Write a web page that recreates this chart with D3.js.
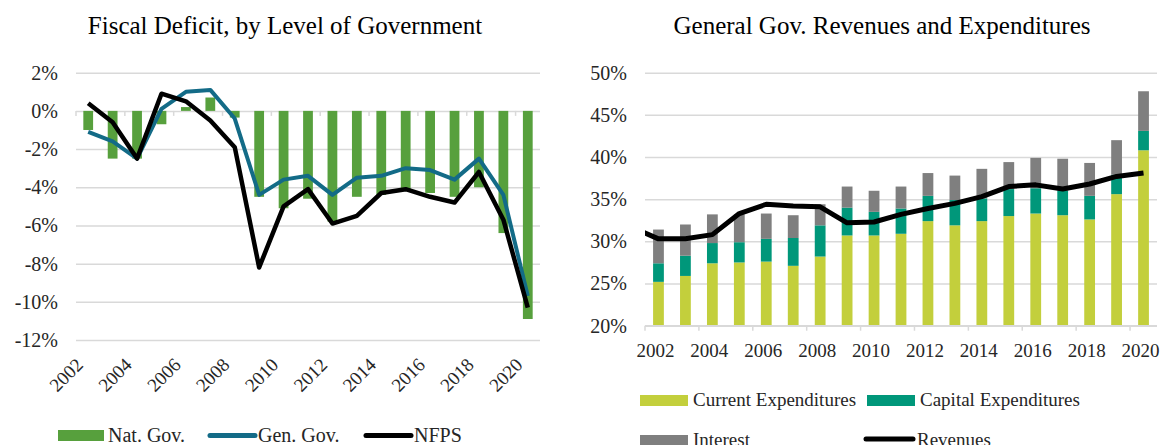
<!DOCTYPE html>
<html>
<head>
<meta charset="utf-8">
<script src="https://cdn.jsdelivr.net/npm/d3@7/dist/d3.min.js"></script>
<style>
  body { margin: 0; background: #fff; }
  svg text { font-family: "Liberation Serif", "DejaVu Serif", serif; fill: #262626; }
</style>
</head>
<body>
<svg id="chart" width="1165" height="445"></svg>
<script>
// categories
var years = [2002, 2003, 2004, 2005, 2006, 2007, 2008, 2009, 2010, 2011,
             2012, 2013, 2014, 2015, 2016, 2017, 2018, 2019, 2020];
var yearLabels = [2002, 2004, 2006, 2008, 2010, 2012, 2014, 2016, 2018, 2020];

// left chart: fiscal deficit, % of GDP
var natGov = [-1.0, -2.5, -2.5, -0.7, 0.2, 0.7, -0.35, -4.5, -5.1, -4.6,
              -5.8, -4.5, -4.4, -4.2, -4.3, -4.5, -4.0, -6.4, -10.9];
var genGov = [-1.1, -1.6, -2.5, 0.1, 1.0, 1.1, -0.4, -4.4, -3.6, -3.4,
              -4.4, -3.5, -3.4, -3.0, -3.1, -3.6, -2.5, -4.4, -9.7];
var nfps   = [0.4, -0.6, -2.5, 0.9, 0.5, -0.5, -1.9, -8.2, -5.0, -4.1,
              -5.9, -5.5, -4.3, -4.1, -4.5, -4.8, -3.2, -5.7, -10.3];
var leftTicks = [2, 0, -2, -4, -6, -8, -10, -12];

// right chart: general government, % of GDP
var currentExp = [25.2, 25.9, 27.4, 27.5, 27.6, 27.1, 28.2, 30.7, 30.7, 30.9,
                  32.4, 31.9, 32.4, 33.0, 33.3, 33.1, 32.6, 35.6, 40.8];
var capitalExp = [2.2, 2.4, 2.4, 2.4, 2.7, 3.3, 3.7, 3.3, 2.8, 3.0,
                  3.0, 3.0, 2.7, 3.2, 3.0, 2.9, 2.8, 2.3, 2.3];
var interest   = [4.0, 3.7, 3.4, 3.3, 3.0, 2.7, 2.5, 2.5, 2.5, 2.6,
                  2.7, 2.9, 3.5, 3.2, 3.6, 3.8, 3.9, 4.1, 4.7];
// revenues series starts one year earlier (only its tail shows at the left edge)
var revYears = [2001, 2002, 2003, 2004, 2005, 2006, 2007, 2008, 2009, 2010, 2011,
                2012, 2013, 2014, 2015, 2016, 2017, 2018, 2019, 2020];
var revenues = [31.7, 30.3, 30.3, 30.8, 33.3, 34.4, 34.2, 34.1, 32.2, 32.3, 33.2,
                33.9, 34.5, 35.3, 36.5, 36.7, 36.2, 36.8, 37.7, 38.1];
var rightTicks = [20, 25, 30, 35, 40, 45, 50];

var colors = {nat: "#57A03D", gen: "#136B87", nfps: "#000000",
              cur: "#C3CF3C", cap: "#00977A", int: "#7F7F7F", grid: "#D9D9D9"};

var svg = d3.select("#chart");

//---------------- left chart ----------------
var L = {left: 76, right: 540, top: 72.7, bottom: 340};
var xL = d3.scaleBand().domain(years).range([L.left, L.right]);
var yL = d3.scaleLinear().domain([-12, 2]).range([L.bottom, L.top]);
var cL = function(d){ return xL(d) + xL.bandwidth()/2; };

svg.append("text")
    .attr("x", 285).attr("y", 34)
    .attr("text-anchor", "middle")
    .style("font-size", "25px").style("fill", "#000")
    .text("Fiscal Deficit, by Level of Government");

var gL = svg.append("g");
gL.append("g")
    .attr("transform", "translate(" + L.left + ",0)")
    .call(d3.axisLeft(yL).tickValues(leftTicks).tickSize(-(L.right - L.left)).tickPadding(18)
        .tickFormat(function(d){ return d + "%"; }))
    .call(function(g){
        g.select(".domain").remove();
        g.selectAll("line").attr("stroke", colors.grid).attr("stroke-width", 1.5);
        g.selectAll("text").style("font-size", "20px").style("fill", "#262626");
    });

// bars
gL.selectAll(".nat").data(years)
    .enter().append("rect")
    .attr("class", "nat")
    .attr("x", function(d){ return cL(d) - xL.bandwidth()*0.2; })
    .attr("width", xL.bandwidth()*0.4)
    .attr("y", function(d, i){ return yL(Math.max(0, natGov[i])); })
    .attr("height", function(d, i){ return Math.abs(yL(natGov[i]) - yL(0)); })
    .attr("fill", colors.nat);

// category ticks on the zero line
gL.selectAll(".xtick").data(yearLabels)
    .enter().append("line")
    .attr("x1", function(d){ return xL(d); }).attr("x2", function(d){ return xL(d); })
    .attr("y1", yL(0)).attr("y2", yL(0) + 5)
    .attr("stroke", colors.grid).attr("stroke-width", 1.5);

gL.selectAll(".xlab").data(yearLabels)
    .enter().append("text")
    .attr("transform", function(d){ return "translate(" + (cL(d) - 4) + ",366) rotate(-45)"; })
    .attr("text-anchor", "end")
    .style("font-size", "19px")
    .text(function(d){ return d; });

var lineL = d3.line()
    .x(function(d){ return cL(d[0]); })
    .y(function(d){ return yL(d[1]); });

[[genGov, colors.gen, 4], [nfps, colors.nfps, 4.5]].forEach(function(s){
    gL.append("path")
        .datum(years.map(function(y, i){ return [y, s[0][i]]; }))
        .attr("d", lineL)
        .attr("fill", "none")
        .attr("stroke", s[1])
        .attr("stroke-width", s[2])
        .attr("stroke-linejoin", "round");
});

// legend left
var legL = [
    {lbl: "Nat. Gov.", type: "rect", color: colors.nat, x: 58},
    {lbl: "Gen. Gov.", type: "line", color: colors.gen, x: 208},
    {lbl: "NFPS", type: "line", color: colors.nfps, x: 364}
];
legL.forEach(function(d){
    if (d.type == "rect") {
        gL.append("rect").attr("x", d.x).attr("y", 430).attr("width", 46).attr("height", 11).attr("fill", d.color);
    } else {
        gL.append("line").attr("x1", d.x + 2).attr("x2", d.x + 47).attr("y1", 435.5).attr("y2", 435.5)
            .attr("stroke", d.color).attr("stroke-width", 5).attr("stroke-linecap", "round");
    }
    gL.append("text").attr("x", d.x + 50).attr("y", 442).style("font-size", "20px").text(d.lbl);
});

//---------------- right chart ----------------
var R = {left: 645, right: 1157, top: 72.7, bottom: 325.7};
var xR = d3.scaleLinear().domain([2001.5, 2020.5]).range([R.left, R.right]);
var stepR = xR(1) - xR(0);
var yR = d3.scaleLinear().domain([20, 50]).range([R.bottom, R.top]);

svg.append("text")
    .attr("x", 882).attr("y", 34)
    .attr("text-anchor", "middle")
    .style("font-size", "25px").style("fill", "#000")
    .text("General Gov. Revenues and Expenditures");

var gR = svg.append("g");
gR.append("g")
    .attr("transform", "translate(" + R.left + ",0)")
    .call(d3.axisLeft(yR).tickValues(rightTicks).tickSize(-(R.right - R.left)).tickPadding(18)
        .tickFormat(function(d){ return d + "%"; }))
    .call(function(g){
        g.select(".domain").remove();
        g.selectAll("line").attr("stroke", colors.grid).attr("stroke-width", 1.5);
        g.selectAll("text").style("font-size", "20px").style("fill", "#262626");
    });

// stacked bars (values are absolute shares, drawn from the 20% floor)
var stackData = years.map(function(y, i){
    return {year: y, cur: currentExp[i], cap: capitalExp[i], int: interest[i]};
});
var series = d3.stack().keys(["cur", "cap", "int"])(stackData);

gR.selectAll(".serie").data(series)
    .enter().append("g")
    .attr("fill", function(d){ return colors[d.key]; })
  .selectAll("rect").data(function(d){ return d; })
    .enter().append("rect")
    .attr("x", function(d){ return xR(d.data.year) - stepR*0.2; })
    .attr("width", stepR*0.4)
    .attr("y", function(d){ return yR(d[1]); })
    .attr("height", function(d){ return yR(Math.max(20, d[0])) - yR(d[1]); });

// x axis
gR.append("line")
    .attr("x1", R.left).attr("x2", R.right).attr("y1", R.bottom).attr("y2", R.bottom)
    .attr("stroke", colors.grid).attr("stroke-width", 1.5);
gR.selectAll(".xtick").data(yearLabels)
    .enter().append("line")
    .attr("x1", function(d){ return xR(d - 0.5); }).attr("x2", function(d){ return xR(d - 0.5); })
    .attr("y1", R.bottom).attr("y2", R.bottom + 5)
    .attr("stroke", colors.grid).attr("stroke-width", 1.5);
gR.selectAll(".xlab").data(yearLabels)
    .enter().append("text")
    .attr("x", function(d){ return xR(d) - 3; })
    .attr("y", 357)
    .attr("text-anchor", "middle")
    .style("font-size", "19px")
    .text(function(d){ return d; });

// revenues line, clipped to the plot area
svg.append("clipPath").attr("id", "clipR")
  .append("rect").attr("x", R.left).attr("y", R.top - 10)
    .attr("width", R.right - R.left).attr("height", R.bottom - R.top + 10);
gR.append("path")
    .datum(revYears.map(function(y, i){ return [y, revenues[i]]; }))
    .attr("clip-path", "url(#clipR)")
    .attr("d", d3.line().x(function(d){ return xR(d[0]); }).y(function(d){ return yR(d[1]); }))
    .attr("fill", "none")
    .attr("stroke", "#000")
    .attr("stroke-width", 5)
    .attr("stroke-linejoin", "round");

// legend right
var legR = [
    {lbl: "Current Expenditures", type: "rect", color: colors.cur, x: 640, y: 400},
    {lbl: "Capital Expenditures", type: "rect", color: colors.cap, x: 867, y: 400},
    {lbl: "Interest", type: "rect", color: colors.int, x: 640, y: 440},
    {lbl: "Revenues", type: "line", color: "#000", x: 864, y: 440}
];
legR.forEach(function(d){
    if (d.type == "rect") {
        gR.append("rect").attr("x", d.x).attr("y", d.y - 5).attr("width", 48).attr("height", 11).attr("fill", d.color);
    } else {
        gR.append("line").attr("x1", d.x + 2).attr("x2", d.x + 49).attr("y1", d.y - 1).attr("y2", d.y - 1)
            .attr("stroke", d.color).attr("stroke-width", 5).attr("stroke-linecap", "round");
    }
    gR.append("text").attr("x", d.x + 53).attr("y", d.y + 6).style("font-size", "19px").text(d.lbl);
});
</script>
</body>
</html>
